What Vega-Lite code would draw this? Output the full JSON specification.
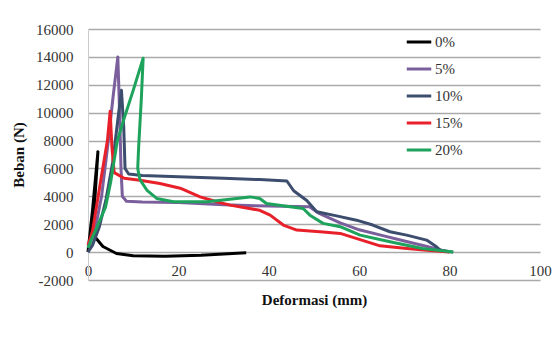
{
  "$schema": "https://vega.github.io/schema/vega-lite/v6.json",
  "width": 452,
  "height": 251,
  "autosize": "none",
  "padding": {"left": 88, "top": 29, "right": 15, "bottom": 58},
  "background": "white",
  "config": {
    "view": {"stroke": null},
    "font": "Liberation Serif"
  },
  "data": {
    "values": [
      {"s":"0%","i":1,"x":0,"y":0},
      {"s":"0%","i":2,"x":1,"y":3000},
      {"s":"0%","i":3,"x":2.2,"y":7200},
      {"s":"0%","i":4,"x":1.2,"y":2200},
      {"s":"0%","i":5,"x":1.5,"y":1100},
      {"s":"0%","i":6,"x":3.3,"y":400},
      {"s":"0%","i":7,"x":6.3,"y":-100},
      {"s":"0%","i":8,"x":10,"y":-260},
      {"s":"0%","i":9,"x":17,"y":-290},
      {"s":"0%","i":10,"x":25,"y":-220},
      {"s":"0%","i":11,"x":35,"y":-50},

      {"s":"5%","i":1,"x":0,"y":300},
      {"s":"5%","i":2,"x":1.5,"y":1500},
      {"s":"5%","i":3,"x":3,"y":4000},
      {"s":"5%","i":4,"x":4.5,"y":8000},
      {"s":"5%","i":5,"x":5.5,"y":11000},
      {"s":"5%","i":6,"x":6.6,"y":14000},
      {"s":"5%","i":7,"x":7,"y":10000},
      {"s":"5%","i":8,"x":7.3,"y":6000},
      {"s":"5%","i":9,"x":7.6,"y":4000},
      {"s":"5%","i":10,"x":8.5,"y":3650},
      {"s":"5%","i":11,"x":12,"y":3600},
      {"s":"5%","i":12,"x":20,"y":3550},
      {"s":"5%","i":13,"x":30,"y":3400},
      {"s":"5%","i":14,"x":40,"y":3300},
      {"s":"5%","i":15,"x":49,"y":3250},
      {"s":"5%","i":16,"x":51,"y":2800},
      {"s":"5%","i":17,"x":55.8,"y":2100},
      {"s":"5%","i":18,"x":60,"y":1600},
      {"s":"5%","i":19,"x":65,"y":1200},
      {"s":"5%","i":20,"x":70,"y":800},
      {"s":"5%","i":21,"x":75,"y":400},
      {"s":"5%","i":22,"x":80,"y":0},

      {"s":"10%","i":1,"x":0,"y":0},
      {"s":"10%","i":2,"x":1,"y":500},
      {"s":"10%","i":3,"x":2.5,"y":1800},
      {"s":"10%","i":4,"x":4,"y":3800},
      {"s":"10%","i":5,"x":5.5,"y":6500},
      {"s":"10%","i":6,"x":6.6,"y":9500},
      {"s":"10%","i":7,"x":7.4,"y":11600},
      {"s":"10%","i":8,"x":7.9,"y":9000},
      {"s":"10%","i":9,"x":8.2,"y":6000},
      {"s":"10%","i":10,"x":9,"y":5600},
      {"s":"10%","i":11,"x":12,"y":5500},
      {"s":"10%","i":12,"x":20,"y":5400},
      {"s":"10%","i":13,"x":30,"y":5300},
      {"s":"10%","i":14,"x":38,"y":5200},
      {"s":"10%","i":15,"x":44,"y":5100},
      {"s":"10%","i":16,"x":45.5,"y":4400},
      {"s":"10%","i":17,"x":48.4,"y":3700},
      {"s":"10%","i":18,"x":50.6,"y":2900},
      {"s":"10%","i":19,"x":55,"y":2600},
      {"s":"10%","i":20,"x":59.4,"y":2290},
      {"s":"10%","i":21,"x":63,"y":1940},
      {"s":"10%","i":22,"x":66.8,"y":1460},
      {"s":"10%","i":23,"x":70.5,"y":1220},
      {"s":"10%","i":24,"x":74.9,"y":860},
      {"s":"10%","i":25,"x":77.1,"y":380},
      {"s":"10%","i":26,"x":77.9,"y":140},
      {"s":"10%","i":27,"x":80.8,"y":0},

      {"s":"15%","i":1,"x":0,"y":500},
      {"s":"15%","i":2,"x":1,"y":1500},
      {"s":"15%","i":3,"x":2,"y":3500},
      {"s":"15%","i":4,"x":3,"y":5500},
      {"s":"15%","i":5,"x":4.3,"y":8000},
      {"s":"15%","i":6,"x":4.9,"y":10100},
      {"s":"15%","i":7,"x":5.3,"y":7500},
      {"s":"15%","i":8,"x":5.8,"y":5700},
      {"s":"15%","i":9,"x":8,"y":5300},
      {"s":"15%","i":10,"x":11.5,"y":5160},
      {"s":"15%","i":11,"x":15.9,"y":4920},
      {"s":"15%","i":12,"x":20.4,"y":4580},
      {"s":"15%","i":13,"x":24.8,"y":3960},
      {"s":"15%","i":14,"x":28.5,"y":3610},
      {"s":"15%","i":15,"x":31.4,"y":3370},
      {"s":"15%","i":16,"x":38,"y":3000},
      {"s":"15%","i":17,"x":40.3,"y":2650},
      {"s":"15%","i":18,"x":43.2,"y":1940},
      {"s":"15%","i":19,"x":46.2,"y":1580},
      {"s":"15%","i":20,"x":52,"y":1450},
      {"s":"15%","i":21,"x":55.8,"y":1340},
      {"s":"15%","i":22,"x":60.2,"y":900},
      {"s":"15%","i":23,"x":64.6,"y":450},
      {"s":"15%","i":24,"x":70,"y":280},
      {"s":"15%","i":25,"x":75,"y":130},
      {"s":"15%","i":26,"x":80,"y":0},

      {"s":"20%","i":1,"x":0,"y":300},
      {"s":"20%","i":2,"x":0.6,"y":800},
      {"s":"20%","i":3,"x":2,"y":1800},
      {"s":"20%","i":4,"x":3.9,"y":3250},
      {"s":"20%","i":5,"x":5,"y":5000},
      {"s":"20%","i":6,"x":5.8,"y":6600},
      {"s":"20%","i":7,"x":6.5,"y":8000},
      {"s":"20%","i":8,"x":8,"y":9600},
      {"s":"20%","i":9,"x":10,"y":11600},
      {"s":"20%","i":10,"x":12.2,"y":13900},
      {"s":"20%","i":11,"x":11.8,"y":11000},
      {"s":"20%","i":12,"x":11.2,"y":7500},
      {"s":"20%","i":13,"x":11,"y":6000},
      {"s":"20%","i":14,"x":11.5,"y":5200},
      {"s":"20%","i":15,"x":13,"y":4450},
      {"s":"20%","i":16,"x":15.2,"y":3850},
      {"s":"20%","i":17,"x":18.9,"y":3610},
      {"s":"20%","i":18,"x":26.3,"y":3610},
      {"s":"20%","i":19,"x":29.9,"y":3730},
      {"s":"20%","i":20,"x":35.8,"y":3960},
      {"s":"20%","i":21,"x":38,"y":3850},
      {"s":"20%","i":22,"x":39.5,"y":3490},
      {"s":"20%","i":23,"x":44.7,"y":3250},
      {"s":"20%","i":24,"x":47.6,"y":3130},
      {"s":"20%","i":25,"x":49.1,"y":2650},
      {"s":"20%","i":26,"x":52,"y":2060},
      {"s":"20%","i":27,"x":55.8,"y":1820},
      {"s":"20%","i":28,"x":60.2,"y":1220},
      {"s":"20%","i":29,"x":66.8,"y":740},
      {"s":"20%","i":30,"x":74,"y":260},
      {"s":"20%","i":31,"x":80.8,"y":0}
    ]
  },
  "mark": {"type": "line", "strokeWidth": 3, "strokeJoin": "round", "interpolate": "linear"},
  "encoding": {
    "x": {
      "field": "x", "type": "quantitative",
      "scale": {"domain": [0, 100], "nice": false},
      "axis": {
        "values": [0, 20, 40, 60, 80, 100],
        "offset": -28,
        "grid": false, "domain": false, "ticks": false,
        "labelFlush": false,
        "labelFont": "Liberation Serif", "labelFontSize": 15, "labelColor": "#333",
        "labelPadding": 11,
        "title": "Deformasi (mm)",
        "titleFont": "Liberation Serif", "titleFontSize": 15, "titleFontWeight": "bold", "titleColor": "#111",
        "titlePadding": 14
      }
    },
    "y": {
      "field": "y", "type": "quantitative",
      "scale": {"domain": [-2000, 16000], "nice": false},
      "axis": {
        "values": [-2000, 0, 2000, 4000, 6000, 8000, 10000, 12000, 14000, 16000],
        "labelExpr": "datum.value < 0 ? '-' + abs(datum.value) : '' + datum.value",
        "grid": true, "gridColor": "#aaaaaa", "gridWidth": 1.5,
        "domain": true, "domainColor": "#cccccc", "ticks": false,
        "labelFont": "Liberation Serif", "labelFontSize": 15, "labelColor": "#333",
        "labelPadding": 15,
        "title": "Beban (N)",
        "titleFont": "Liberation Serif", "titleFontSize": 15, "titleFontWeight": "bold", "titleColor": "#111",
        "titlePadding": 9
      }
    },
    "color": {
      "field": "s", "type": "nominal",
      "scale": {
        "domain": ["0%", "5%", "10%", "15%", "20%"],
        "range": ["#000000", "#7a5f9c", "#3d4d6e", "#e8202a", "#1ea35c"]
      },
      "legend": {
        "title": null,
        "orient": "none",
        "legendX": 317,
        "legendY": -1,
        "symbolType": "stroke",
        "symbolSize": 600,
        "symbolStrokeWidth": 3,
        "labelFont": "Liberation Serif",
        "labelFontSize": 15,
        "labelColor": "#333",
        "labelOffset": 2,
        "rowPadding": 5
      }
    },
    "order": {"field": "i", "type": "quantitative"}
  }
}
